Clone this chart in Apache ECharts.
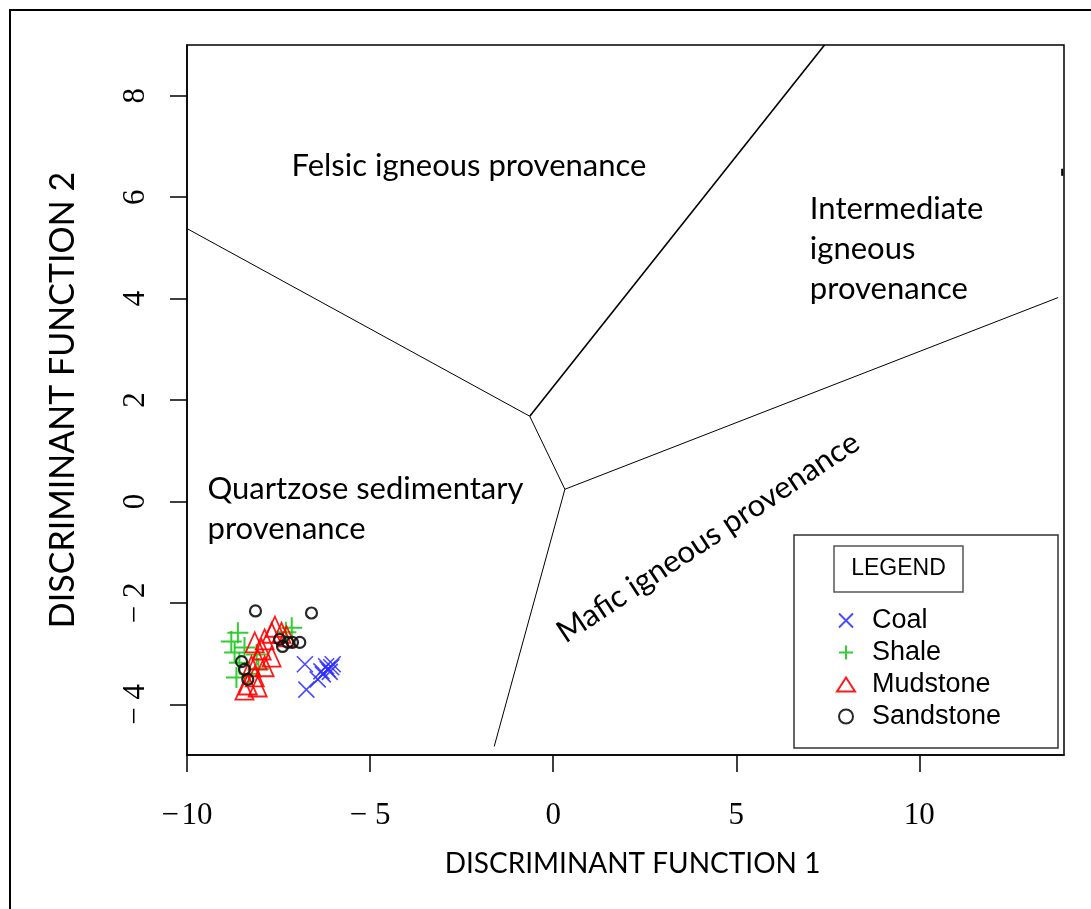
<!DOCTYPE html>
<html>
<head>
<meta charset="utf-8">
<script src="https://cdn.jsdelivr.net/npm/echarts@6/dist/echarts.min.js"></script>
<style>html,body{margin:0;padding:0;background:#fff}#c{width:1091px;height:909px}</style>
</head>
<body>
<div id="c"></div>
<script>
// ---- data ----
const xTicks = [-10, -5, 0, 5, 10];
const xTickLabels = ['\u2212\u200a10', '\u2212 5', '0', '5', '10'];
const yTicks = [-4, -2, 0, 2, 4, 6, 8];
const yTickLabels = ['\u2212 4', '\u2212 2', '0', '2', '4', '6', '8'];

const coal = [[-6.78,-3.21],[-6.74,-3.71],[-6.33,-3.35],[-6.16,-3.31],[-6.06,-3.27],[-6.29,-3.41],[-6.43,-3.51],[-6.02,-3.21],[-6.20,-3.25],[-6.10,-3.36]];
const shale = [[-8.61,-2.59],[-8.79,-2.76],[-8.70,-2.98],[-8.43,-2.88],[-8.57,-3.18],[-8.65,-3.47],[-8.10,-3.02],[-8.05,-3.30],[-7.14,-2.49],[-7.30,-2.58],[-8.30,-3.40]];
const mudstone = [[-7.60,-2.47],[-7.69,-2.59],[-7.88,-2.72],[-8.15,-2.78],[-7.96,-2.92],[-8.07,-3.12],[-7.88,-3.25],[-8.24,-3.25],[-8.15,-3.45],[-8.34,-3.61],[-8.07,-3.65],[-8.43,-3.71],[-7.69,-3.06],[-7.42,-2.59],[-7.28,-2.66]];
const sandstone = [[-8.13,-2.16],[-6.60,-2.20],[-7.25,-2.78],[-7.12,-2.78],[-6.92,-2.78],[-7.47,-2.72],[-8.51,-3.16],[-8.43,-3.31],[-8.34,-3.51],[-7.39,-2.86]];

const boundaries = [
  [[-10, 5.38], [-0.64, 1.68]],
  [[-0.64, 1.68], [7.41, 9.0]],
  [[-0.64, 1.68], [0.32, 0.24]],
  [[0.32, 0.24], [13.79, 4.02]],
  [[0.32, 0.24], [-1.61, -4.83]],
  [[13.9, 6.56], [13.9, 6.42]]
];
const boundaryWidths = [1, 1.6, 1, 1, 1, 2];

const regionLabels = [
  {name: 'Felsic igneous provenance', value: [-2.30, 6.61], align: 'center', rotate: 0},
  {name: 'Intermediate\nigneous\nprovenance', value: [7.01, 4.97], align: 'left', rotate: 0},
  {name: 'Quartzose sedimentary\nprovenance', value: [-9.44, -0.15], align: 'left', rotate: 0},
  {name: 'Mafic igneous provenance', value: [4.23, -0.71], align: 'center', rotate: 33.5}
];

// ---- chart ----
const labelFont = 'Lato, "Noto Sans", sans-serif';
const chart = echarts.init(document.getElementById('c'), null, {renderer: 'canvas'});
const series = [];
boundaries.forEach((seg, i) => {
  series.push({
    type: 'line', name: 'b' + i, data: seg, symbol: 'none', silent: true,
    lineStyle: {color: '#000', width: boundaryWidths[i]}, z: 2
  });
});
series.push({
  type: 'scatter', name: 'Coal', data: coal,
  symbol: 'path://M0,0L10,10M10,0L0,10', symbolSize: 16,
  itemStyle: {color: 'transparent', borderColor: '#2a2aff', borderWidth: 1.6, opacity: 0.85}, z: 5
});
series.push({
  type: 'scatter', name: 'Shale', data: shale,
  symbol: 'path://M5,0L5,10M0,5L10,5', symbolSize: 21,
  itemStyle: {color: 'transparent', borderColor: '#1ec81e', borderWidth: 2, opacity: 0.9}, z: 5
});
series.push({
  type: 'scatter', name: 'Mudstone', data: mudstone,
  symbol: 'triangle', symbolSize: [18, 20],
  itemStyle: {color: 'transparent', borderColor: '#ff0000', borderWidth: 1.8, opacity: 0.9}, z: 5
});
series.push({
  type: 'scatter', name: 'Sandstone', data: sandstone,
  symbol: 'circle', symbolSize: 11,
  itemStyle: {color: 'transparent', borderColor: '#111', borderWidth: 2.2, opacity: 0.9}, z: 6
});
series.push({
  type: 'scatter', name: 'labels', silent: true, symbolSize: 0,
  itemStyle: {opacity: 1},
  data: regionLabels.map(r => ({
    name: r.name, value: r.value,
    label: {show: true, position: r.align === 'left' ? 'right' : 'inside', distance: 0,
      rotate: r.rotate, align: r.align, verticalAlign: 'middle',
      formatter: '{b}', color: '#000', fontFamily: labelFont, fontSize: 31, lineHeight: 40}
  })),
  z: 3
});

chart.setOption({
  animation: false,
  backgroundColor: '#fff',
  grid: {left: 187, top: 45, right: 27, bottom: 154, show: true, borderColor: '#000', borderWidth: 1.5, containLabel: false},
  xAxis: {
    type: 'value', min: -10, max: 13.95,
    axisLine: {show: true, onZero: false, lineStyle: {color: '#000', width: 1.5}},
    axisTick: {show: true, customValues: xTicks, length: 17, inside: false, lineStyle: {color: '#000', width: 1.5}},
    axisLabel: {customValues: xTicks, margin: 45, color: '#000', fontFamily: '"Liberation Serif", serif', fontSize: 31,
      formatter: v => xTickLabels[xTicks.indexOf(v)]},
    splitLine: {show: false},
    name: 'DISCRIMINANT FUNCTION 1', nameLocation: 'middle', nameGap: 95,
    nameTextStyle: {color: '#000', fontFamily: labelFont, fontSize: 28, padding: [0, 0, 0, 14]}
  },
  yAxis: {
    type: 'value', min: -5, max: 9,
    axisLine: {show: true, onZero: false, lineStyle: {color: '#000', width: 1.5}},
    axisTick: {show: true, customValues: yTicks, length: 17, inside: false, lineStyle: {color: '#000', width: 1.5}},
    axisLabel: {customValues: yTicks, margin: 36, rotate: 90, color: '#000', fontFamily: '"Liberation Serif", serif', fontSize: 31,
      formatter: v => yTickLabels[yTicks.indexOf(v)]},
    splitLine: {show: false},
    name: 'DISCRIMINANT FUNCTION 2', nameLocation: 'middle', nameGap: 107,
    nameTextStyle: {color: '#000', fontFamily: labelFont, fontSize: 34}
  },
  legend: {
    data: ['Coal', 'Shale', 'Mudstone', 'Sandstone'],
    orient: 'vertical', left: 831, top: 602, itemWidth: 18, itemHeight: 14, itemGap: 5, z: 20,
    selectedMode: false,
    textStyle: {color: '#000', fontFamily: '"Liberation Sans", Arial, sans-serif', fontSize: 27, padding: [0, 0, 0, 12]}
  },
  graphic: [
    {type: 'rect', shape: {x: 10, y: 10, width: 1200, height: 1000}, style: {fill: 'none', stroke: '#000', lineWidth: 2}, silent: true},
    {type: 'rect', shape: {x: 794, y: 535, width: 264, height: 213}, style: {fill: 'none', stroke: '#333', lineWidth: 1.5}, z: 10, silent: true},
    {type: 'rect', shape: {x: 834, y: 546, width: 129, height: 46}, style: {fill: 'none', stroke: '#555', lineWidth: 1.5}, z: 11, silent: true},
    {type: 'text', x: 898.5, y: 569, style: {text: 'LEGEND', fill: '#000', font: '23px "Liberation Sans", Arial, sans-serif', textAlign: 'center', textVerticalAlign: 'middle'}, z: 12, silent: true}
  ],
  series: series
});
</script>
</body>
</html>
